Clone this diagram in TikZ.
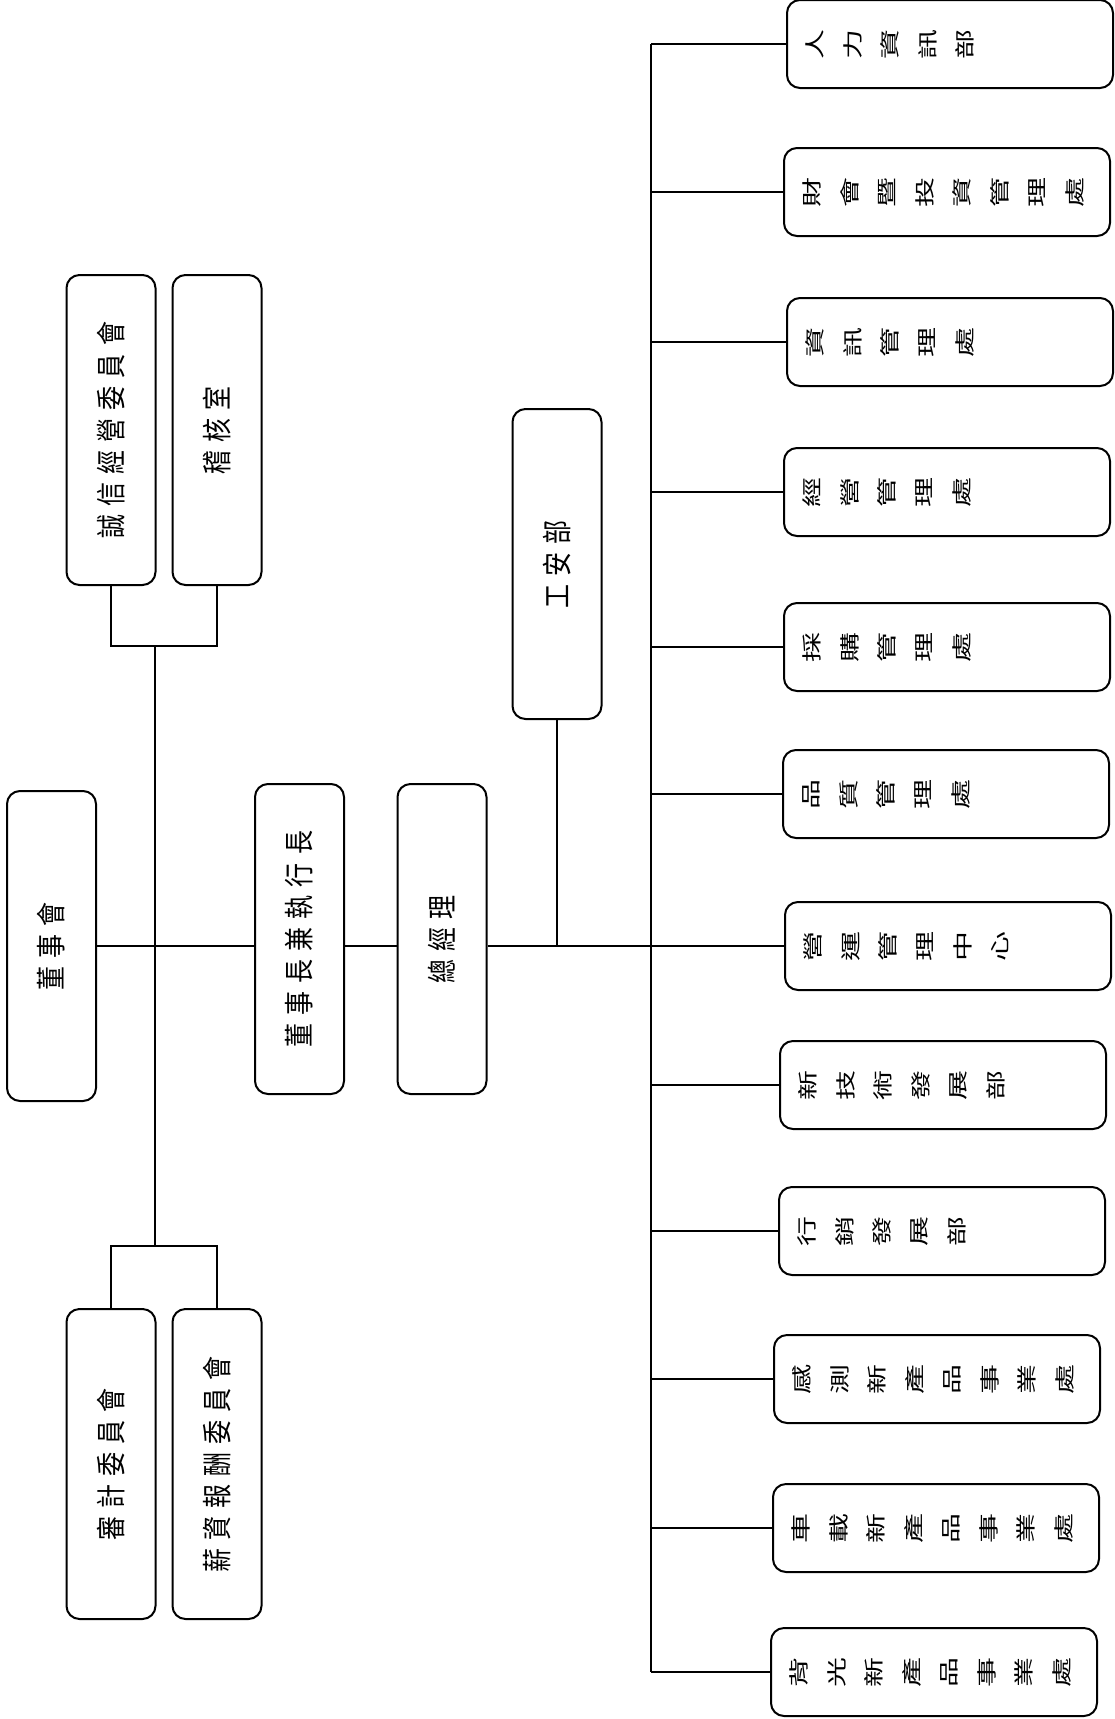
\documentclass[tikz,border=0pt]{standalone}
\usepackage{fontspec}
\usepackage{graphicx}
\newfontfamily\unitfont[FakeStretch=0.8,LetterSpace=26.7]{Noto Sans CJK TC}
\newfontfamily\deptfont[FakeStretch=1.5]{Noto Sans CJK TC}
\tikzset{
  unitbox/.style={draw, line width=2pt, rounded corners=13pt, inner sep=0pt,
    minimum width=89pt, minimum height=310pt,
    font=\unitfont\fontsize{30}{36}\selectfont},
  deptbox/.style={draw, line width=2pt, rounded corners=13pt, inner sep=0pt,
    minimum width=326pt, minimum height=88pt},
  deptchar/.style={rotate=90, inner sep=0pt,
    font=\deptfont\fontsize{20}{24}\selectfont},
  link/.style={line width=2.6pt}
}
% one rotated character after another along a department box
\newcommand{\deptname}[2]{%
  \foreach \c [count=\i from 0] in {#2}
    \node[deptchar] (#1-\i) at ([xshift={29pt+37.5pt*\i}]#1.west) {\c};}
\begin{document}
\begin{tikzpicture}[x=1pt,y=-1pt]
  \useasboundingbox (0,0) rectangle (1115,1719);
  % left side
  \node[unitbox] (integrity) at (111,430) {\rotatebox{90}{誠信經營委員會}};
  \node[unitbox] (audit) at (217,430) {\rotatebox{90}{稽核室}};
  \node[unitbox] (board) at (51.5,946) {\rotatebox{90}{董事會}};
  \node[unitbox] (chair) at (299.5,939) {\rotatebox{90}{董事長兼執行長}};
  \node[unitbox] (gm) at (442,939) {\rotatebox{90}{總經理}};
  \node[unitbox] (safety) at (557,564) {\rotatebox{90}{工安部}};
  \node[unitbox] (auditcomm) at (111,1464) {\rotatebox{90}{審計委員會}};
  \node[unitbox] (remun) at (217,1464) {\rotatebox{90}{薪資報酬委員會}};
  % right side
  \node[deptbox] (hr) at (950,44) {};
  \node[deptbox] (fin) at (947,192) {};
  \node[deptbox] (infomgmt) at (950,342) {};
  \node[deptbox] (bizmgmt) at (947,492) {};
  \node[deptbox] (purch) at (947,647) {};
  \node[deptbox] (quality) at (946,794) {};
  \node[deptbox] (ops) at (948,946) {};
  \node[deptbox] (newtech) at (943,1085) {};
  \node[deptbox] (mkt) at (942,1231) {};
  \node[deptbox] (sensor) at (937,1379) {};
  \node[deptbox] (car) at (936,1528) {};
  \node[deptbox] (backlight) at (934,1672) {};
  \deptname{hr}{人,力,資,訊,部}
  \deptname{fin}{財,會,暨,投,資,管,理,處}
  \deptname{infomgmt}{資,訊,管,理,處}
  \deptname{bizmgmt}{經,營,管,理,處}
  \deptname{purch}{採,購,管,理,處}
  \deptname{quality}{品,質,管,理,處}
  \deptname{ops}{營,運,管,理,中,心}
  \deptname{newtech}{新,技,術,發,展,部}
  \deptname{mkt}{行,銷,發,展,部}
  \deptname{sensor}{感,測,新,產,品,事,業,處}
  \deptname{car}{車,載,新,產,品,事,業,處}
  \deptname{backlight}{背,光,新,產,品,事,業,處}
  % connectors
  \coordinate (ltop) at (155,646);
  \coordinate (lbot) at (155,1246);
  \coordinate (rtop) at (651,44);
  \coordinate (rbot) at (651,1672);
  \begin{scope}[link]
    \draw (ltop) -- (lbot);
    \draw (integrity.south) -- (integrity.south |- ltop) -- (audit.south |- ltop) -- (audit.south);
    \draw (auditcomm.north) -- (auditcomm.north |- lbot) -- (remun.north |- lbot) -- (remun.north);
    \draw (board.east) -- (board.east -| chair.west);
    \draw (chair.east |- board.east) -- (gm.west |- board.east);
    \draw (gm.east |- board.east) -- (ops.west);
    \draw (safety.south) -- (safety.south |- ops.west);
    \draw (rtop) -- (rbot);
    \foreach \d in {hr,fin,infomgmt,bizmgmt,purch,quality,newtech,mkt,sensor,car,backlight}
      \draw (rtop |- \d.west) -- (\d.west);
  \end{scope}
\end{tikzpicture}
\end{document}
